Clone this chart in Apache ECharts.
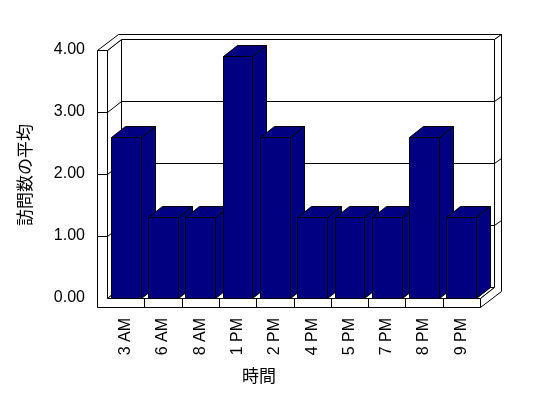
<!DOCTYPE html>
<html><head><meta charset="utf-8">
<script src="https://cdn.jsdelivr.net/npm/echarts@6/dist/echarts.min.js"></script>
<style>html,body{margin:0;padding:0;background:#fff}#c{width:548px;height:398px}</style>
</head><body><div id="c"></div>
<script>
const categories = ['3 AM','6 AM','8 AM','1 PM','2 PM','4 PM','5 PM','7 PM','8 PM','9 PM'];
const visitAverages = [2.6, 1.3, 1.3, 3.9, 2.6, 1.3, 1.3, 1.3, 2.6, 1.3];
const yTicks = [0, 1, 2, 3, 4];
const yTickLabels = ['0.00', '1.00', '2.00', '3.00', '4.00'];
const xTitle = '時間';
const yTitle = '訪問数の平均';

const DX = 14, DY = -11, BACKF = 0.5, LW = 10, FT = 9;
const BAR_COLOR = '#000080', EDGE = '#000';
const NUM_FONT = '"Liberation Sans", Arial, sans-serif';
const CJK_FONT = '"Noto Sans CJK JP", sans-serif';

function P(x, y) { return [Math.round(x) + 0.5, Math.round(y) + 0.5]; }
function poly(points, fill) {
  return { type: 'polygon', shape: { points }, style: { fill: fill || '#fff', stroke: EDGE, lineWidth: 1 } };
}
function line(points) {
  return { type: 'polyline', shape: { points }, style: { fill: null, stroke: EDGE, lineWidth: 1 } };
}

function renderFrame(params, api) {
  const band = api.size([1, 0])[0];
  const first = api.coord([0, yTicks[0]]);
  const last = api.coord([categories.length - 1, yTicks[0]]);
  const x0 = first[0] - band / 2, x1 = last[0] + band / 2, y0 = first[1];
  const yT = api.coord([0, yTicks[yTicks.length - 1]])[1];
  const bx = DX * (1 + BACKF), by = DY * (1 + BACKF);
  const ch = [];
  // back wall front face
  ch.push(poly([P(x0 + DX, yT + DY), P(x1 + DX, yT + DY), P(x1 + DX, y0 + DY), P(x0 + DX, y0 + DY)]));
  // left wall inner face
  ch.push(poly([P(x0, yT), P(x0 + DX, yT + DY), P(x0 + DX, y0 + DY), P(x0, y0)]));
  // floor top face
  ch.push(poly([P(x0, y0), P(x1, y0), P(x1 + DX, y0 + DY), P(x0 + DX, y0 + DY)]));
  // top faces of walls
  ch.push(poly([P(x0 - LW, yT), P(x0 - LW + bx, yT + by), P(x1 + bx, yT + by), P(x1 + DX, yT + DY), P(x0 + DX, yT + DY), P(x0, yT)]));
  // right faces (floor + back wall)
  ch.push(poly([P(x1, y0), P(x1 + DX, y0 + DY), P(x1 + DX, yT + DY), P(x1 + bx, yT + by), P(x1 + bx, y0 + FT + by), P(x1, y0 + FT)]));
  // front L face (left wall + floor)
  ch.push(poly([P(x0 - LW, yT), P(x0, yT), P(x0, y0), P(x1, y0), P(x1, y0 + FT), P(x0 - LW, y0 + FT)]));
  // grid lines
  for (let i = 1; i < yTicks.length - 1; i++) {
    const yf = api.coord([0, yTicks[i]])[1];
    ch.push(line([P(x0 - LW, yf), P(x0, yf), P(x0 + DX, yf + DY), P(x1 + DX, yf + DY), P(x1 + bx, yf + by)]));
  }
  // floor dividers
  for (let k = 1; k < categories.length; k++) {
    const xk = x0 + k * band;
    ch.push(line([P(xk, y0), P(xk, y0 + FT)]));
  }
  return { type: 'group', children: ch };
}

function renderBar(params, api) {
  const idx = api.value(0), v = api.value(1);
  const c = api.coord([idx, v]);
  const b = api.coord([idx, 0]);
  const band = api.size([1, 0])[0];
  const w = band * 0.8;
  const xl = c[0] - w / 2, xr = c[0] + w / 2, yt = c[1], yb = b[1];
  const st = { fill: BAR_COLOR, stroke: EDGE, lineWidth: 1 };
  return {
    type: 'group',
    children: [
      { type: 'polygon', shape: { points: [P(xr, yb), P(xr, yt), P(xr + DX, yt + DY), P(xr + DX, yb + DY)] }, style: st },
      { type: 'polygon', shape: { points: [P(xl, yt), P(xr, yt), P(xr + DX, yt + DY), P(xl + DX, yt + DY)] }, style: st },
      { type: 'polygon', shape: { points: [P(xl, yt), P(xr, yt), P(xr, yb), P(xl, yb)] }, style: st }
    ]
  };
}

const chart = echarts.init(document.getElementById('c'), null, { renderer: 'canvas' });
chart.setOption({
  animation: false,
  backgroundColor: '#fff',
  grid: { left: 107, right: 68, top: 50, bottom: 100 },
  xAxis: {
    type: 'category',
    data: categories,
    axisLine: { show: false },
    axisTick: { show: false },
    axisLabel: { interval: 0, rotate: 90, margin: 20, color: '#000', fontSize: 16, fontFamily: NUM_FONT },
    splitLine: { show: false }
  },
  yAxis: {
    type: 'value',
    min: yTicks[0],
    max: yTicks[yTicks.length - 1],
    interval: 1,
    axisLine: { show: false },
    axisTick: { show: false },
    splitLine: { show: false },
    axisLabel: {
      margin: 22, color: '#000', fontSize: 16, fontFamily: NUM_FONT,
      formatter: v => yTickLabels[yTicks.indexOf(v)]
    }
  },
  graphic: [
    { type: 'text', x: 259, y: 376, style: { text: xTitle, align: 'center', verticalAlign: 'middle', fontSize: 17, fontFamily: CJK_FONT, fill: '#000' } },
    { type: 'text', x: 25, y: 175, rotation: Math.PI / 2, style: { text: yTitle, align: 'center', verticalAlign: 'middle', fontSize: 17, fontFamily: CJK_FONT, fill: '#000' } }
  ],
  series: [
    { type: 'custom', z: 1, renderItem: renderFrame, data: [[0, 0]], encode: { x: 0, y: 1 }, silent: true },
    { type: 'custom', z: 2, renderItem: renderBar, data: visitAverages.map((v, i) => [i, v]), encode: { x: 0, y: 1 } }
  ]
});
</script>
</body></html>
